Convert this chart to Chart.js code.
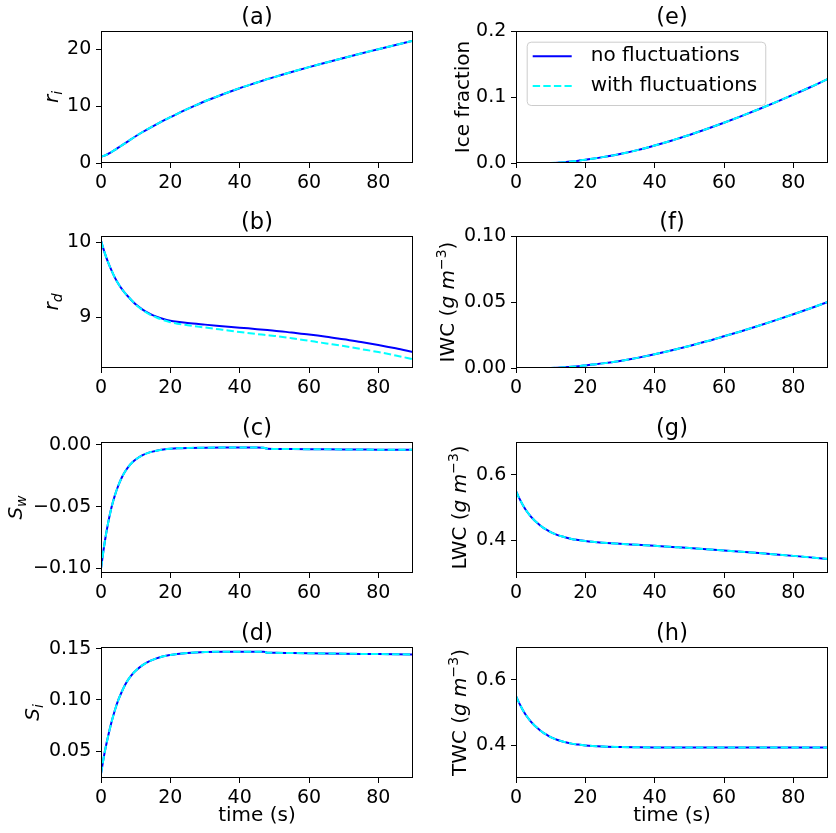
<!DOCTYPE html>
<html>
<head>
<meta charset="utf-8">
<script src="https://cdn.jsdelivr.net/npm/chart.js@4"></script>
<style>
body{margin:0;background:#fff;}
#fig{position:relative;width:836px;height:833px;overflow:hidden;}
#fig canvas{position:absolute;}
</style>
</head>
<body>
<div id="fig"></div>
<script>
// time axis shared by every panel (s)
const time = [0,1,2,3,4,5,6,7,8,9,10,12,14,16,18,20,22,25,30,35,40,45,47,48,50,55,60,65,70,75,80,85,90];
const seriesNames = ['no fluctuations','with fluctuations'];
const xTicks = [0,20,40,60,80];
const xRange = [0,90];

// (a) r_i
const riNo   = [1.10,1.30,1.58,1.92,2.30,2.70,3.10,3.50,3.90,4.30,4.70,5.45,6.15,6.80,7.45,8.05,8.65,9.50,10.85,12.05,13.15,14.15,14.55,14.75,15.10,16.00,16.85,17.65,18.45,19.25,20.00,20.75,21.50];
const riWith = [1.10,1.30,1.58,1.92,2.30,2.70,3.10,3.50,3.90,4.30,4.70,5.45,6.15,6.80,7.45,8.05,8.65,9.50,10.85,12.05,13.15,14.15,14.55,14.75,15.10,16.00,16.85,17.65,18.45,19.25,20.00,20.75,21.50];
// (b) r_d
const rdNo   = [10.02,9.87,9.74,9.63,9.53,9.45,9.38,9.32,9.27,9.22,9.175,9.105,9.052,9.012,8.98,8.957,8.942,8.926,8.905,8.885,8.865,8.845,8.837,8.833,8.825,8.80,8.775,8.745,8.71,8.675,8.635,8.59,8.54];
const rdWith = [10.02,9.87,9.74,9.63,9.53,9.45,9.38,9.32,9.27,9.22,9.172,9.098,9.042,9.0,8.965,8.937,8.918,8.897,8.867,8.837,8.807,8.78,8.77,8.765,8.755,8.725,8.69,8.655,8.62,8.58,8.54,8.495,8.445];
// (c) S_w
const swNo   = [-0.100,-0.080,-0.064,-0.051,-0.041,-0.033,-0.0265,-0.0215,-0.0175,-0.0145,-0.012,-0.0085,-0.0063,-0.0049,-0.0040,-0.0034,-0.0030,-0.0027,-0.0025,-0.0024,-0.0024,-0.0024,-0.0025,-0.0034,-0.0035,-0.0036,-0.0037,-0.0038,-0.0039,-0.0040,-0.0041,-0.0041,-0.0042];
const swWith = [-0.100,-0.080,-0.064,-0.051,-0.041,-0.033,-0.0265,-0.0215,-0.0175,-0.0145,-0.012,-0.0085,-0.0063,-0.0049,-0.0040,-0.0034,-0.0030,-0.0027,-0.0025,-0.0024,-0.0024,-0.0024,-0.0025,-0.0034,-0.0035,-0.0036,-0.0037,-0.0038,-0.0039,-0.0040,-0.0041,-0.0041,-0.0042];
// (d) S_i
const siNo   = [0.028,0.048,0.064,0.078,0.090,0.100,0.108,0.115,0.1205,0.125,0.1285,0.134,0.1378,0.1405,0.1425,0.1438,0.1448,0.1458,0.1467,0.147,0.147,0.147,0.1469,0.1460,0.1459,0.1457,0.1455,0.1453,0.1451,0.1449,0.1447,0.1445,0.1443];
const siWith = [0.028,0.048,0.064,0.078,0.090,0.100,0.108,0.115,0.1205,0.125,0.1285,0.134,0.1378,0.1405,0.1425,0.1438,0.1448,0.1458,0.1467,0.147,0.147,0.147,0.1469,0.1460,0.1459,0.1457,0.1455,0.1453,0.1451,0.1449,0.1447,0.1445,0.1443];
// (e) ice fraction
const iceNo   = [0,0,0,0,0,0,0,0,0,0.00004,0.00014,0.00056,0.00126,0.00224,0.0035,0.00504,0.0065,0.0089,0.0136,0.0195,0.0265,0.0342,0.0375,0.0392,0.0425,0.0515,0.0610,0.0710,0.0815,0.0923,0.1035,0.1152,0.1275];
const iceWith = [0,0,0,0,0,0,0,0,0,0.00004,0.00014,0.00056,0.00126,0.00224,0.0035,0.00504,0.0065,0.0089,0.0136,0.0195,0.0265,0.0342,0.0375,0.0392,0.0425,0.0515,0.0610,0.0710,0.0815,0.0923,0.1035,0.1152,0.1275];
// (f) IWC
const iwcNo   = [0,0,0,0,0,0,0,0,0,0.00002,0.00006,0.00022,0.0005,0.00088,0.00138,0.00198,0.0026,0.0035,0.00535,0.00766,0.0104,0.01344,0.01474,0.0154,0.0167,0.0202,0.0240,0.0279,0.0320,0.0363,0.0407,0.0453,0.0501];
const iwcWith = [0,0,0,0,0,0,0,0,0,0.00002,0.00006,0.00022,0.0005,0.00088,0.00138,0.00198,0.0026,0.0035,0.00535,0.00766,0.0104,0.01344,0.01474,0.0154,0.0167,0.0202,0.0240,0.0279,0.0320,0.0363,0.0407,0.0453,0.0501];
// (g) LWC
const lwcNo   = [0.550,0.527,0.507,0.490,0.476,0.464,0.454,0.445,0.437,0.431,0.4249,0.4158,0.4095,0.4041,0.4006,0.3976,0.3952,0.3925,0.3890,0.3860,0.3829,0.3797,0.3783,0.3776,0.3763,0.3728,0.3690,0.3651,0.3610,0.3567,0.3523,0.3477,0.3429];
const lwcWith = [0.550,0.527,0.507,0.490,0.476,0.464,0.454,0.445,0.437,0.431,0.4249,0.4158,0.4095,0.4041,0.4006,0.3976,0.3952,0.3925,0.3890,0.3860,0.3829,0.3797,0.3783,0.3776,0.3763,0.3728,0.3690,0.3651,0.3610,0.3567,0.3523,0.3477,0.3429];
// (h) TWC
const twcNo   = [0.550,0.527,0.507,0.490,0.476,0.464,0.454,0.445,0.437,0.431,0.425,0.416,0.410,0.405,0.402,0.3996,0.3978,0.396,0.3944,0.3937,0.3933,0.3931,0.393,0.393,0.393,0.393,0.393,0.393,0.393,0.393,0.393,0.393,0.393];
const twcWith = [0.550,0.527,0.507,0.490,0.476,0.464,0.454,0.445,0.437,0.431,0.425,0.416,0.410,0.405,0.402,0.3996,0.3978,0.396,0.3944,0.3937,0.3933,0.3931,0.393,0.393,0.393,0.393,0.393,0.393,0.393,0.393,0.393,0.393,0.393];

// y ticks and limits
const yTicksA = [0,10,20],          yRangeA = [0,23.2];
const yTicksB = [9,10],             yRangeB = [8.328,10.084];
const yTicksC = [-0.10,-0.05,0.00], yRangeC = [-0.1036,0.0021];
const yTicksD = [0.05,0.10,0.15],   yRangeD = [0.024,0.1516];
const yTicksE = [0.0,0.1,0.2],      yRangeE = [0,0.2];
const yTicksF = [0.00,0.05,0.10],   yRangeF = [0,0.10];
const yTicksG = [0.4,0.6],          yRangeG = [0.30,0.70];
const yTicksH = [0.4,0.6],          yRangeH = [0.30,0.70];

const FAM = '"DejaVu Sans"';
const TICK = 19, LAB = 20, TITLE = 22.5;

// layout of the 4x2 grid
const colLeft = [0,418], colW = 418, yAxisW = [101,98], padR = [5,8];
const rowTop = [0,205,411,616], rowH = [205,205,205,217], plotH = [132,132,131,131];
const TOP = 31;

// label parts: [text, style]  '' upright, 'i' italic, 'is' italic subscript, '^' superscript
const panels = [
  {title:'(a)',col:0,row:0,no:riNo, fl:riWith, ticks:yTicksA,range:yRangeA,dec:0,lab:[['r','i'],['i','is']],labX:57.5},
  {title:'(b)',col:0,row:1,no:rdNo, fl:rdWith, ticks:yTicksB,range:yRangeB,dec:0,lab:[['r','i'],['d','is']],labX:57.5},
  {title:'(c)',col:0,row:2,no:swNo, fl:swWith, ticks:yTicksC,range:yRangeC,dec:2,lab:[['S','i'],['w','is']],labX:22},
  {title:'(d)',col:0,row:3,no:siNo, fl:siWith, ticks:yTicksD,range:yRangeD,dec:2,lab:[['S','i'],['i','is']],labX:38.5},
  {title:'(e)',col:1,row:0,no:iceNo,fl:iceWith,ticks:yTicksE,range:yRangeE,dec:1,lab:[['Ice fraction','']],labX:469,legend:true},
  {title:'(f)',col:1,row:1,no:iwcNo,fl:iwcWith,ticks:yTicksF,range:yRangeF,dec:2,lab:[['IWC (',''],['g','i'],[' ','i'],['m','i'],['\u22123','^'],[')','']],labX:454},
  {title:'(g)',col:1,row:2,no:lwcNo,fl:lwcWith,ticks:yTicksG,range:yRangeG,dec:1,lab:[['LWC (',''],['g','i'],[' ','i'],['m','i'],['\u22123','^'],[')','']],labX:466},
  {title:'(h)',col:1,row:3,no:twcNo,fl:twcWith,ticks:yTicksH,range:yRangeH,dec:1,lab:[['TWC (',''],['g','i'],[' ','i'],['m','i'],['\u22123','^'],[')','']],labX:466}
];

function fmt(v,dec){
  const s=Math.abs(v).toFixed(dec);
  return (v<-1e-9?'\u2212':'')+s;
}

function drawLabel(ctx,parts,bx,cy){
  ctx.save();
  ctx.translate(bx,cy);
  ctx.rotate(-Math.PI/2);
  ctx.textBaseline='alphabetic';
  ctx.textAlign='left';
  ctx.fillStyle='#000';
  const segs=parts.map(([t,s])=>{
    const small=s.includes('s')||s.includes('^');
    const size=small?LAB*0.7:LAB;
    const font=(s.includes('i')?'italic ':'')+size+'px '+FAM;
    ctx.font=font;
    return {t,font,w:ctx.measureText(t).width,dy:s.includes('s')?4:(s.includes('^')?-8:0)};
  });
  const total=segs.reduce((a,g)=>a+g.w,0);
  let x=-total/2;
  segs.forEach(g=>{ctx.font=g.font;ctx.fillText(g.t,x,g.dy);x+=g.w;});
  ctx.restore();
}

const decor={
  id:'decor',
  afterDraw(chart,args,o){
    const {ctx,chartArea:a}=chart;
    ctx.save();
    ctx.strokeStyle='#000';ctx.lineWidth=1;
    ctx.strokeRect(a.left+0.5,a.top+0.5,a.width-1,a.height-1);
    ctx.fillStyle='#000';ctx.font=TITLE+'px '+FAM;
    ctx.textAlign='center';ctx.textBaseline='middle';
    ctx.fillText(o.title,(a.left+a.right)/2,18);
    ctx.restore();
    drawLabel(ctx,o.lab,o.labX,(a.top+a.bottom)/2);
    if(o.legend){
      const fx=a.left+10.7, fy=a.top+10.7;
      ctx.save();
      ctx.font=LAB+'px '+FAM;
      const ds=chart.data.datasets;
      const tw=Math.max(...ds.map(d=>ctx.measureText(d.label).width));
      const fw=64+tw+8, fh=63.3;
      ctx.beginPath();
      ctx.roundRect(fx+0.5,fy+0.5,fw,fh,4);
      ctx.fillStyle='rgba(255,255,255,0.8)';ctx.fill();
      ctx.strokeStyle='#cccccc';ctx.lineWidth=1;ctx.stroke();
      ds.forEach((d,i)=>{
        const y=fy+14.5+i*29.7;
        ctx.beginPath();
        ctx.setLineDash(d.borderDash||[]);
        ctx.strokeStyle=d.borderColor;ctx.lineWidth=d.borderWidth;
        ctx.moveTo(fx+6,y);ctx.lineTo(fx+45,y);ctx.stroke();
        ctx.setLineDash([]);
        ctx.fillStyle='#000';ctx.textBaseline='middle';ctx.textAlign='left';
        ctx.fillText(d.label,fx+64,y);
      });
      ctx.restore();
    }
  }
};

const fig=document.getElementById('fig');
panels.forEach(p=>{
  const cv=document.createElement('canvas');
  const w=colW, h=rowH[p.row];
  cv.width=w;cv.height=h;
  cv.style.left=colLeft[p.col]+'px';cv.style.top=rowTop[p.row]+'px';
  cv.style.width=w+'px';cv.style.height=h+'px';
  fig.appendChild(cv);
  const xH=h-TOP-plotH[p.row];
  const last=p.row===3;
  const grid={drawOnChartArea:false,drawTicks:true,tickLength:5,tickColor:'#000',tickWidth:1};
  new Chart(cv,{
    type:'line',
    data:{datasets:[
      {label:seriesNames[0],data:time.map((t,i)=>({x:t,y:p.no[i]})),borderColor:'#0000ff',borderWidth:2,pointRadius:0,cubicInterpolationMode:'monotone',fill:false,order:1},
      {label:seriesNames[1],data:time.map((t,i)=>({x:t,y:p.fl[i]})),borderColor:'#00ffff',borderWidth:2,borderDash:[7.4,3.2],pointRadius:0,cubicInterpolationMode:'monotone',fill:false,order:0}
    ]},
    options:{
      responsive:false,animation:false,
      layout:{padding:{left:0,right:padR[p.col],top:TOP,bottom:0}},
      plugins:{
        legend:{display:false},tooltip:{enabled:false},title:{display:false},
        decor:{title:p.title,lab:p.lab,labX:p.labX-colLeft[p.col],legend:!!p.legend}
      },
      scales:{
        x:{type:'linear',min:xRange[0],max:xRange[1],
          afterBuildTicks:s=>{s.ticks=xTicks.map(v=>({value:v}));},
          afterFit:s=>{s.height=xH;},
          grid,border:{display:false},
          ticks:{color:'#000',font:{family:FAM,size:TICK},padding:4,maxRotation:0,autoSkip:false,callback:v=>String(v)},
          title:{display:last,text:'time (s)',color:'#000',font:{family:FAM,size:LAB},padding:{top:0,bottom:5}}
        },
        y:{type:'linear',min:p.range[0],max:p.range[1],
          afterBuildTicks:s=>{s.ticks=p.ticks.map(v=>({value:v}));},
          afterFit:s=>{s.width=yAxisW[p.col];},
          grid,border:{display:false},
          ticks:{color:'#000',font:{family:FAM,size:TICK},padding:4.7,autoSkip:false,callback:v=>fmt(v,p.dec)}
        }
      }
    },
    plugins:[decor]
  });
});
</script>
</body>
</html>
